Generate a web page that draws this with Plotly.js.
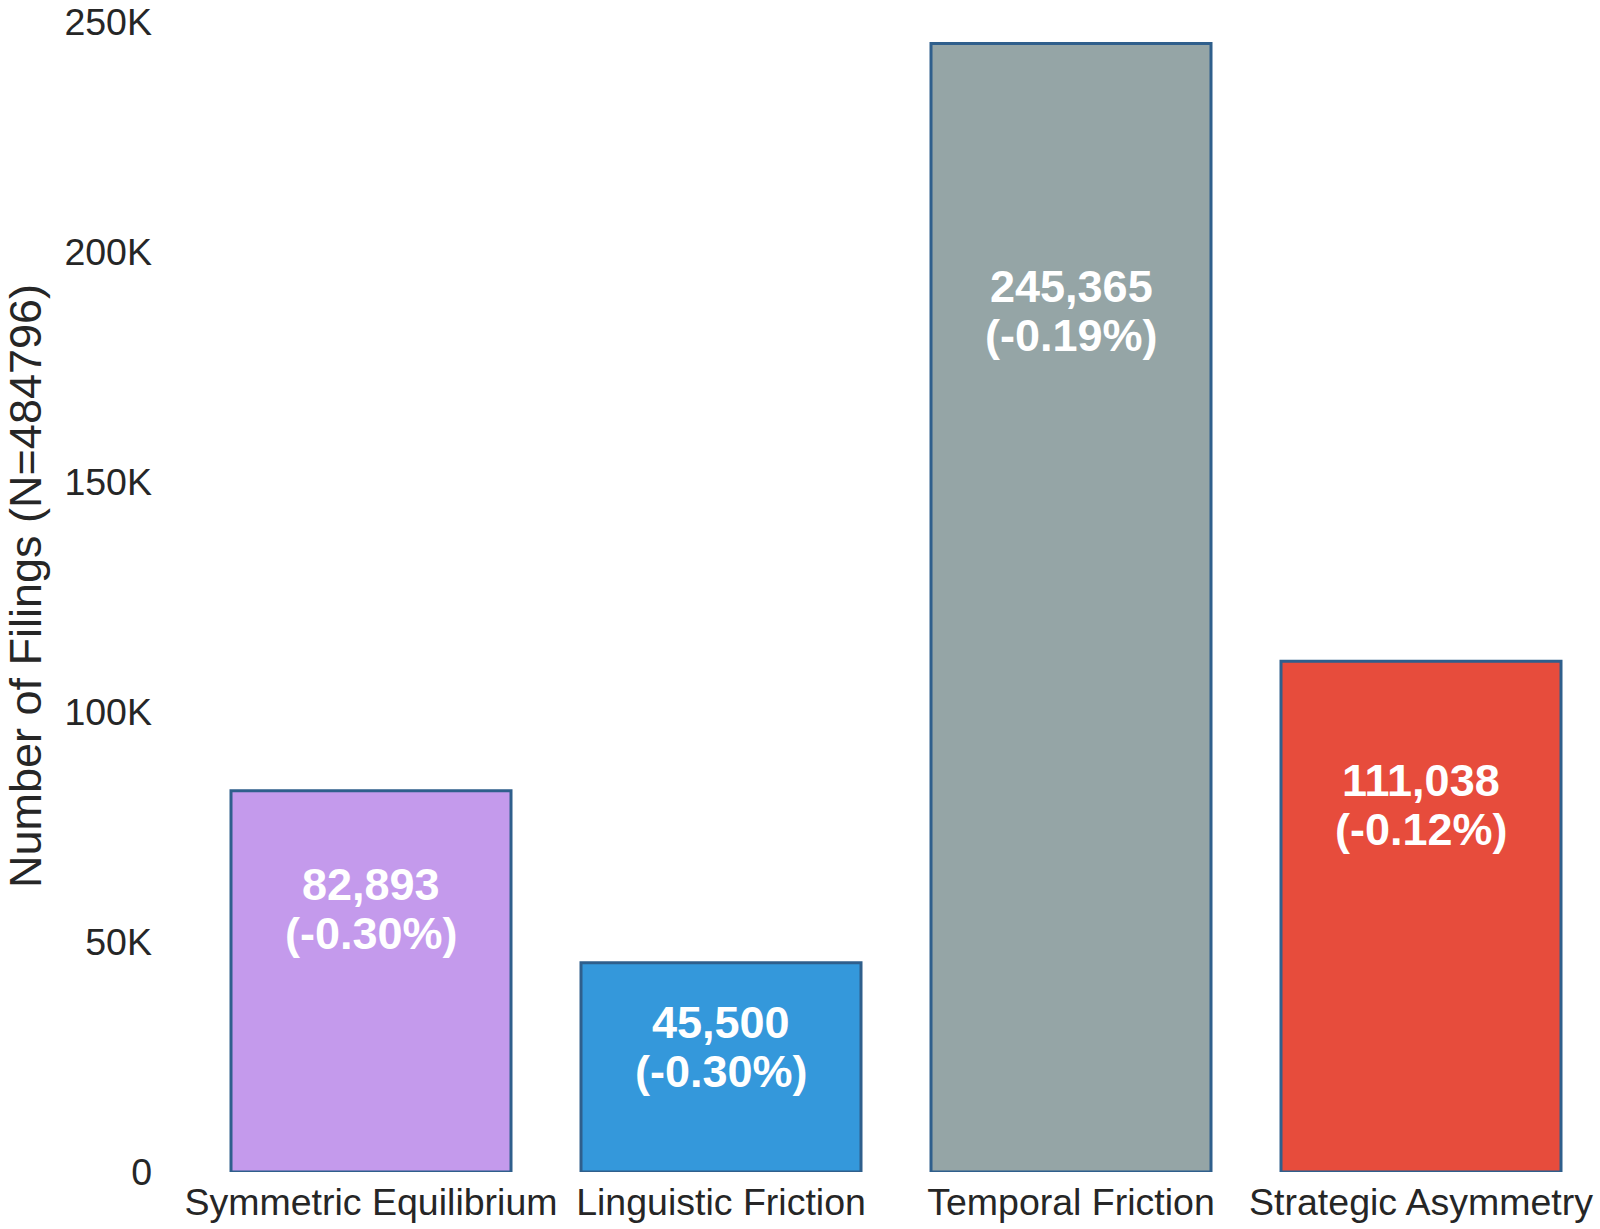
<!DOCTYPE html>
<html>
<head>
<meta charset="utf-8">
<script src="https://cdn.plot.ly/plotly-3.0.1.min.js"></script>
<style>
  html, body { margin: 0; padding: 0; background: #fff; }
  #grafico { width: 1600px; height: 1229px; }
</style>
</head>
<body>
<div id="grafico"></div>
<script>
// dados do gráfico
const categorias = ['Symmetric Equilibrium', 'Linguistic Friction', 'Temporal Friction', 'Strategic Asymmetry'];
const valores = [82893, 45500, 245365, 111038];
const variacoes = ['(-0.30%)', '(-0.30%)', '(-0.19%)', '(-0.12%)'];
const cores = ['#c49aec', '#3498db', '#95a5a6', '#e74c3c'];
const tickVals = [0, 50000, 100000, 150000, 200000, 250000];
const tickTexts = ['0', '50K', '100K', '150K', '200K', '250K'];

const fonte = '"Liberation Sans", Arial, sans-serif';

const trace = {
  x: categorias,
  y: valores,
  type: 'bar',
  marker: {
    color: cores,
    line: { color: '#2f5f8c', width: 3 }
  },
  hoverinfo: 'skip'
};

// rótulos dentro das barras: topo do texto em 80% da altura
const anotacoes = [];
categorias.forEach((cat, i) => {
  anotacoes.push({
    x: cat, y: valores[i] * 0.8, xref: 'x', yref: 'y',
    text: '<b>' + valores[i].toLocaleString('en-US') + '</b>',
    showarrow: false, yanchor: 'top', yshift: 10,
    font: { family: fonte, size: 45, color: '#ffffff' }
  });
  anotacoes.push({
    x: cat, y: valores[i] * 0.8, xref: 'x', yref: 'y',
    text: '<b>' + variacoes[i] + '</b>',
    showarrow: false, yanchor: 'top', yshift: 10 - 49,
    font: { family: fonte, size: 45, color: '#ffffff' }
  });
});

const layout = {
  width: 1600,
  height: 1229,
  margin: { l: 196, r: 4, t: 0, b: 57 },
  paper_bgcolor: '#ffffff',
  plot_bgcolor: '#ffffff',
  showlegend: false,
  bargap: 0.2,
  font: { family: fonte, color: '#262626' },
  xaxis: {
    showgrid: false,
    zeroline: false,
    showline: false,
    ticks: '',
    tickangle: 0,
    ticklabelstandoff: 4,
    tickfont: { family: fonte, size: 37.5, color: '#262626' }
  },
  yaxis: {
    range: [0, 254800],
    showgrid: false,
    zeroline: false,
    showline: false,
    ticks: '',
    tickvals: tickVals,
    ticktext: tickTexts,
    ticklabelstandoff: 43,
    tickfont: { family: fonte, size: 37.5, color: '#262626' },
    title: {
      text: 'Number of Filings (N=484796)',
      font: { family: fonte, size: 45, color: '#262626' },
      standoff: 18
    }
  },
  annotations: anotacoes
};

Plotly.newPlot('grafico', [trace], layout, { displayModeBar: false, staticPlot: true });
</script>
</body>
</html>
